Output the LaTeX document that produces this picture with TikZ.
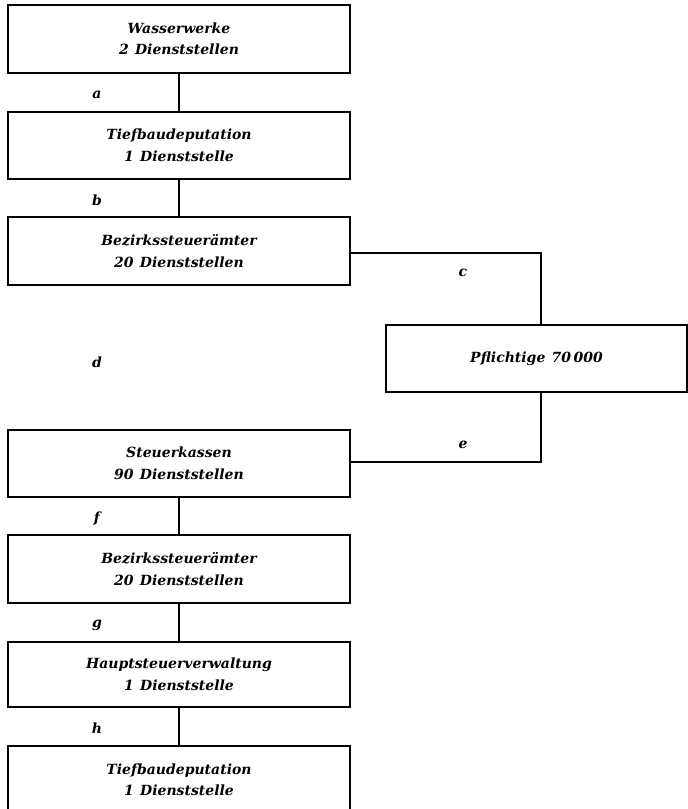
\documentclass[tikz,border=0pt]{standalone}
\usepackage{fontspec}
\setmainfont{DejaVu Serif}
\newcommand{\gp}{\hspace{0.45em}}
\begin{document}
\begin{tikzpicture}[x=1pt,y=-1pt,
  box/.style={draw, line width=1.1pt, outer sep=0pt, inner sep=0pt, align=center,
    font=\fontsize{14}{21.5}\selectfont\bfseries\itshape},
  lab/.style={font=\fontsize{14}{16}\selectfont\bfseries\itshape, inner sep=0pt},
  conn/.style={line width=1.1pt}]
\useasboundingbox (0,0) rectangle (688,809);
\clip (0,0) rectangle (688,809);
\node[box, minimum width=342pt, minimum height=68pt] (b1) at (179,39) {Wasserwerke\\2\gp Dienststellen};
\node[box, minimum width=342pt, minimum height=67pt] (b2) at (179,145.5) {Tiefbaudeputation\\1\gp Dienststelle};
\node[box, minimum width=342pt, minimum height=68pt] (b3) at (179,251) {Bezirkssteuerämter\\20\gp Dienststellen};
\node[box, minimum width=301pt, minimum height=67pt] (pf) at (536.5,358.5) {Pflichtige\gp 70\,000};
\node[box, minimum width=342pt, minimum height=67pt] (b4) at (179,463.5) {Steuerkassen\\90\gp Dienststellen};
\node[box, minimum width=342pt, minimum height=68pt] (b5) at (179,569) {Bezirkssteuerämter\\20\gp Dienststellen};
\node[box, minimum width=342pt, minimum height=65pt] (b6) at (179,674.5) {Hauptsteuerverwaltung\\1\gp Dienststelle};
\node[box, minimum width=342pt, minimum height=68pt] (b7) at (179,780) {Tiefbaudeputation\\1\gp Dienststelle};
\draw[conn] (b1.south) -- (b2.north);
\draw[conn] (b2.south) -- (b3.north);
\draw[conn] (b4.south) -- (b5.north);
\draw[conn] (b5.south) -- (b6.north);
\draw[conn] (b6.south) -- (b7.north);
\coordinate (cc) at (541,253);
\coordinate (ce) at (541,462);
\draw[conn] (b3.east |- cc) -- (cc) -- (pf.north -| cc);
\draw[conn] (pf.south -| ce) -- (ce) -- (b4.east |- ce);
\node[lab] (la) at (97,95) {a};
\node[lab] (lb) at (97,200) {b};
\node[lab] (lc) at (463,273) {c};
\node[lab] (ld) at (97,362) {d};
\node[lab] (le) at (463,445) {e};
\node[lab] (lf) at (97,519) {f};
\node[lab] (lg) at (97,625) {g};
\node[lab] (lh) at (97,728) {h};
\end{tikzpicture}
\end{document}
